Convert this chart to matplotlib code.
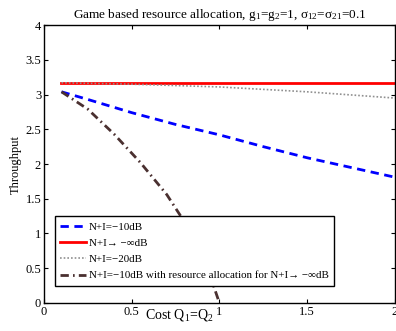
import matplotlib
matplotlib.use('Agg')
import matplotlib.pyplot as plt
from matplotlib.ticker import FormatStrFormatter

plt.rcParams['font.family'] = ['Liberation Serif', 'DejaVu Serif']
plt.rcParams['mathtext.fontset'] = 'custom'
plt.rcParams['mathtext.rm'] = 'Liberation Serif'
plt.rcParams['mathtext.it'] = 'Liberation Serif:italic'

# cost Q1=Q2
x_blue = [0.1, 0.25, 0.5, 0.75, 1.0, 1.25, 1.5, 1.75, 2.0]
y_blue = [3.04, 2.93, 2.74, 2.57, 2.42, 2.25, 2.09, 1.95, 1.81]   # N+I=-10dB

x_red = [0.1, 2.0]
y_red = [3.17, 3.17]                                              # N+I -> -inf dB

x_gray = [0.1, 0.5, 1.0, 1.5, 2.0]
y_gray = [3.17, 3.15, 3.11, 3.04, 2.95]                           # N+I=-20dB

x_brown = [0.1, 0.25, 0.4, 0.55, 0.7, 0.8, 0.9, 0.95, 1.0]
y_brown = [3.04, 2.79, 2.43, 2.02, 1.56, 1.17, 0.67, 0.37, 0.0]  # with allocation for -inf

labels = ['N+I=\u221210dB',
          'N+I\u2192 \u2212\u221edB',
          'N+I=\u221220dB',
          'N+I=\u221210dB with resource allocation for N+I\u2192 \u2212\u221edB']

fig = plt.figure(figsize=(3.96, 3.31), dpi=100)
ax = fig.add_axes([0.111, 0.085, 0.886, 0.839])

ax.plot(x_blue, y_blue, color='#0000ff', lw=2, ls=(0, (3, 2)), label=labels[0])
ax.plot(x_red, y_red, color='#ff0000', lw=2, label=labels[1])
ax.plot(x_gray, y_gray, color='#909090', lw=1.2, ls=(0, (1, 1.2)), label=labels[2])
ax.plot(x_brown, y_brown, color='#4a3030', lw=2, ls=(0, (3, 1.5, 0.6, 1.5)), label=labels[3])

ax.set_xlim(0, 2)
ax.set_ylim(0, 4)
ax.set_xticks([0, 0.5, 1, 1.5, 2])
ax.set_yticks([0, 0.5, 1, 1.5, 2, 2.5, 3, 3.5, 4])
ax.xaxis.set_major_formatter(FormatStrFormatter('%g'))
ax.yaxis.set_major_formatter(FormatStrFormatter('%g'))
ax.tick_params(direction='in', top=True, right=True, labelsize=9, length=3, pad=2)
for s in ax.spines.values():
    s.set_linewidth(1)

ax.set_title('Game based resource allocation, g$_1$=g$_2$=1, \u03c3$_{12}$=\u03c3$_{21}$=0.1',
             fontsize=9.5, pad=5)
ax.text(0.386, -0.043, 'Cost Q$_1$=Q$_2$', transform=ax.transAxes, fontsize=10,
        ha='center', va='center')
ax.set_ylabel('Throughput', fontsize=9, labelpad=3)

leg = ax.legend(loc='lower left', bbox_to_anchor=(0.031, 0.061), fontsize=7.9,
                fancybox=False, edgecolor='black', framealpha=1,
                handlelength=2.3, handletextpad=0.3, borderaxespad=0,
                labelspacing=0.6, borderpad=0.5)
leg.get_frame().set_linewidth(1)

fig.savefig('out.png', dpi=100)
